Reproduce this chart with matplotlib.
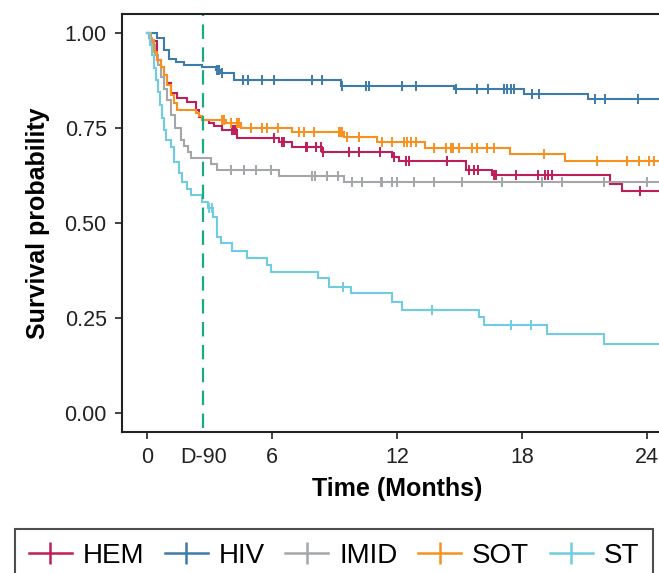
import numpy as np
import matplotlib
matplotlib.use("Agg")
import matplotlib.pyplot as plt
from matplotlib.lines import Line2D

plt.rcParams['font.family'] = ['Liberation Sans', 'DejaVu Sans']

# Kaplan-Meier step data (months, survival)
hem_t = [0, 0.14, 0.48, 0.67, 0.82, 0.96, 1.15, 1.44, 1.92, 2.35, 2.49, 2.64, 2.97, 3.21, 3.6, 4.32, 6.33, 6.95, 8.39, 11.75, 12.09, 15.3, 16.55, 22.21, 22.78]
hem_s = [1.0, 0.979, 0.929, 0.911, 0.889, 0.868, 0.842, 0.829, 0.818, 0.797, 0.779, 0.771, 0.763, 0.755, 0.745, 0.724, 0.713, 0.7, 0.687, 0.674, 0.663, 0.639, 0.626, 0.603, 0.584]
hem_c = [4.08, 4.17, 4.27, 6.09, 6.47, 6.57, 7.63, 7.67, 8.11, 8.35, 8.45, 9.69, 10.17, 11.18, 11.85, 12.42, 12.57, 14.39, 15.44, 15.68, 15.88, 16.64, 16.74, 17.7, 18.75, 19.09, 19.23, 19.42, 23.65]

hiv_t = [0, 0.48, 0.82, 1.06, 1.39, 1.77, 2.64, 3.31, 3.55, 4.17, 9.3, 14.72, 18.08, 21.15]
hiv_s = [1.0, 0.987, 0.955, 0.932, 0.924, 0.916, 0.911, 0.903, 0.895, 0.876, 0.861, 0.853, 0.839, 0.826]
hiv_c = [3.36, 3.45, 3.6, 4.6, 4.84, 5.52, 6.09, 7.91, 8.39, 9.35, 10.5, 10.65, 12.23, 12.9, 14.82, 15.83, 16.35, 17.12, 17.27, 17.46, 17.6, 18.47, 18.8, 21.49, 21.97, 23.55]

imid_t = [0, 0.1, 0.24, 0.38, 0.53, 0.67, 0.82, 0.96, 1.15, 1.34, 1.63, 1.77, 1.97, 2.11, 3.07, 3.36, 6.33, 9.45]
imid_s = [1.0, 0.987, 0.968, 0.942, 0.916, 0.884, 0.853, 0.824, 0.784, 0.75, 0.718, 0.703, 0.687, 0.671, 0.655, 0.639, 0.624, 0.608]
imid_c = [4.03, 4.65, 5.23, 5.95, 7.91, 8.06, 8.63, 9.16, 9.83, 10.31, 11.22, 11.27, 11.75, 11.99, 12.81, 13.76, 15.11, 17.03, 18.94, 19.9, 21.92, 23.98]

sot_t = [0, 0.19, 0.34, 0.48, 0.67, 0.82, 0.96, 1.15, 1.29, 1.44, 2.35, 2.49, 2.64, 3.79, 4.51, 6.95, 9.45, 11.03, 13.33, 17.41, 20.05]
sot_s = [1.0, 0.982, 0.95, 0.929, 0.911, 0.889, 0.863, 0.837, 0.816, 0.797, 0.789, 0.782, 0.771, 0.763, 0.75, 0.739, 0.726, 0.713, 0.697, 0.682, 0.663]
sot_c = [3.6, 3.69, 4.03, 4.32, 4.41, 4.99, 5.52, 5.76, 6.28, 7.29, 7.53, 8.01, 9.21, 9.3, 9.35, 9.59, 10.17, 11.27, 11.75, 12.33, 12.47, 12.66, 12.9, 13.76, 14.34, 14.58, 14.68, 14.96, 15.59, 15.83, 16.31, 16.64, 19.04, 21.58, 23.02, 23.6, 24.08, 24.32]

st_t = [0, 0.14, 0.24, 0.34, 0.43, 0.53, 0.62, 0.72, 0.82, 0.91, 1.15, 1.29, 1.53, 1.68, 1.92, 2.11, 2.64, 2.92, 3.17, 3.36, 3.55, 4.08, 4.8, 5.76, 5.95, 8.2, 8.73, 9.78, 11.75, 12.23, 15.92, 16.16, 19.18, 21.92]
st_s = [1.0, 0.968, 0.942, 0.908, 0.876, 0.845, 0.811, 0.776, 0.745, 0.718, 0.7, 0.661, 0.632, 0.608, 0.589, 0.574, 0.555, 0.539, 0.516, 0.463, 0.447, 0.426, 0.408, 0.389, 0.371, 0.355, 0.332, 0.316, 0.292, 0.271, 0.253, 0.232, 0.208, 0.182]
st_c = [2.97, 3.12, 9.4, 13.67, 17.46, 18.42]

groups = ["HEM", "HIV", "IMID", "SOT", "ST"]
colors = ["#BE1E5A", "#3D7BA8", "#A4A7AA", "#F8901F", "#6FCDE2"]
curves = [(hem_t, hem_s, hem_c), (hiv_t, hiv_s, hiv_c), (imid_t, imid_s, imid_c),
          (sot_t, sot_s, sot_c), (st_t, st_s, st_c)]

d90 = 2.7
xticks = [0, d90, 6, 12, 18, 24]
xticklabels = ["0", "D-90", "6", "12", "18", "24"]
yticks = [0, 0.25, 0.5, 0.75, 1.0]
yticklabels = ["0.00", "0.25", "0.50", "0.75", "1.00"]

fig = plt.figure(figsize=(6.59, 5.73), dpi=100)
ax = fig.add_axes([122 / 659, 141 / 573, 550 / 659, 418 / 573])

for (t, s, c), col in zip(curves, colors):
    t = np.array(t)
    s = np.array(s)
    ax.plot(np.append(t, 25.5), np.append(s, s[-1]), drawstyle="steps-post",
            color=col, lw=1.5, solid_joinstyle="miter")
    idx = np.searchsorted(t, c, side="right") - 1
    ax.plot(c, s[idx], ls="none", marker="|", ms=7, mew=1.4, color=col)

ax.axvline(d90, ymin=0.01, color="#1AAA85", lw=1.6, dashes=(6.5, 3.8))

ax.set_xlim(-1.2, 25.2)
ax.set_ylim(-0.05, 1.05)
ax.set_xticks(xticks)
ax.set_xticklabels(xticklabels)
ax.set_yticks(yticks)
ax.set_yticklabels(yticklabels)
ax.tick_params(labelsize=15.5, length=5, width=1.2, pad=6, colors="#222222")
ax.xaxis.get_major_ticks()[1].tick1line.set_visible(False)
for sp in ax.spines.values():
    sp.set_linewidth(1.5)
    sp.set_color("#222222")
ax.set_xlabel("Time (Months)", fontsize=18, fontweight="bold", labelpad=6)
ax.set_ylabel("Survival probability", fontsize=18, fontweight="bold", labelpad=10)

handles = [Line2D([], [], color=col, lw=1.8, marker="|", ms=16, mew=1.8) for col in colors]
fig.legend(handles, groups, loc="upper left", bbox_to_anchor=(15 / 659, 1 - 529 / 573),
           bbox_transform=fig.transFigure, ncol=5, fontsize=20, frameon=True,
           fancybox=False, edgecolor="#222222", handlelength=1.55, handletextpad=0.38,
           columnspacing=0.75, borderpad=0.5, borderaxespad=0)
fig.legends[0].get_frame().set_linewidth(1.5)

fig.savefig("out.png", dpi=100)
